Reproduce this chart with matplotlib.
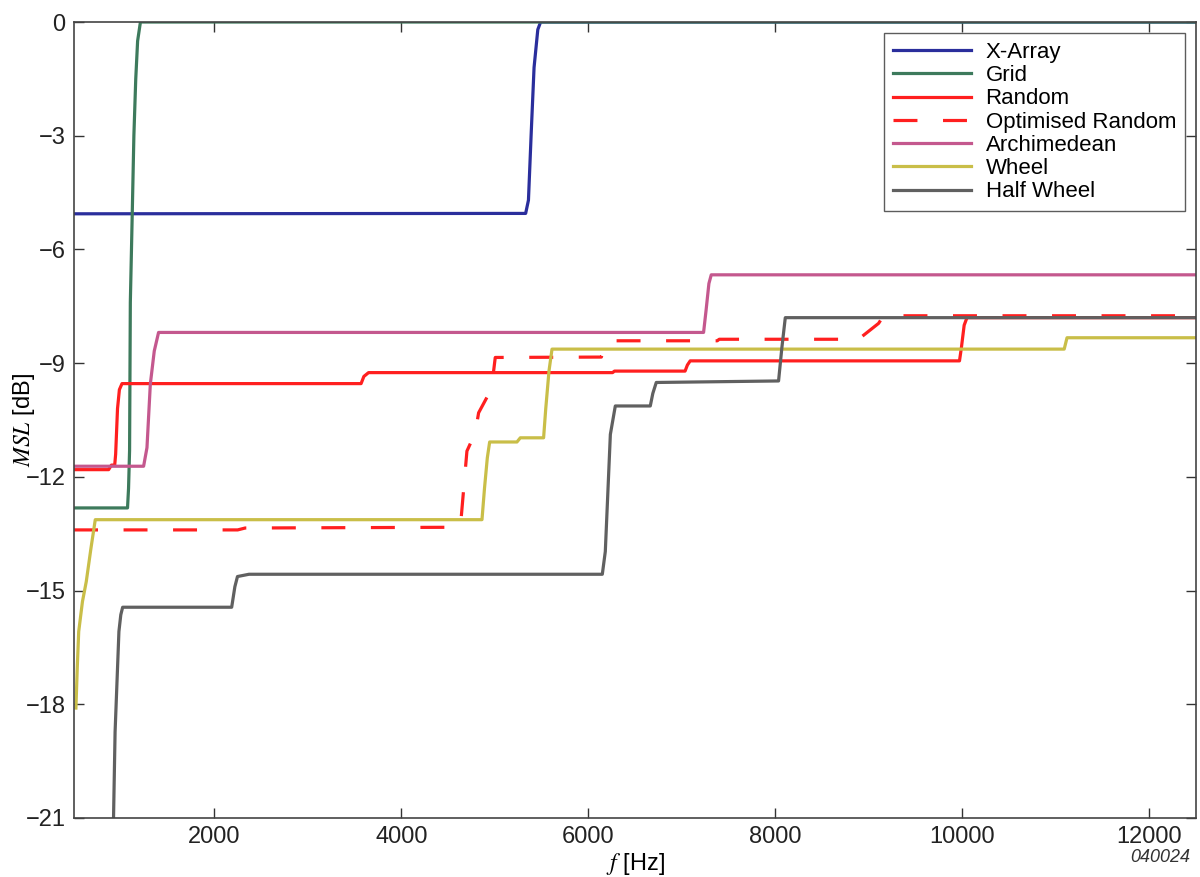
import numpy as np
import matplotlib
matplotlib.use("Agg")
import matplotlib.pyplot as plt

plt.rcParams['font.family'] = ['Liberation Sans Narrow', 'Liberation Sans', 'DejaVu Sans']
plt.rcParams['mathtext.fontset'] = 'stix'

# frequency [Hz] / MSL [dB]
xarray_f = [500, 5070, 5330, 5360, 5390, 5420, 5460, 5490, 12500]
xarray_db = [-5.06, -5.05, -5.05, -4.7, -2.9, -1.2, -0.2, 0.0, 0.0]

grid_f = [500, 1072, 1083, 1094, 1102, 1123, 1140, 1160, 1180, 1210, 12500]
grid_db = [-12.82, -12.82, -12.3, -11.3, -7.4, -5.0, -3.0, -1.5, -0.5, 0.0, 0.0]

random_f = [500, 870, 900, 935, 945, 965, 985, 1013, 3570, 3600, 3650,
            6260, 6280, 7035, 7060, 7090, 9970, 9990, 10020, 10050, 12500]
random_db = [-11.81, -11.81, -11.69, -11.69, -11.4, -10.2, -9.7, -9.54, -9.54, -9.35, -9.25,
             -9.25, -9.21, -9.21, -9.05, -8.94, -8.94, -8.6, -8.0, -7.8, -7.8]

opt_f = [500, 2250, 2330, 4610, 4642, 4702, 4791, 4827, 4923, 4981, 5005,
         6140, 6165, 6200, 7380, 7400, 8890, 9105, 9158, 12500]
opt_db = [-13.40, -13.40, -13.35, -13.33, -13.04, -11.32, -10.84, -10.31, -9.87, -9.34, -8.85,
          -8.84, -8.6, -8.41, -8.41, -8.37, -8.37, -7.95, -7.75, -7.75]

arch_f = [500, 1244, 1280, 1316, 1358, 1404, 7233, 7260, 7290, 7315, 12500]
arch_db = [-11.72, -11.72, -11.23, -9.55, -8.68, -8.19, -8.19, -7.6, -6.9, -6.67, -6.67]

wheel_f = [520, 535, 550, 590, 631, 680, 727, 4863, 4890, 4920, 4945, 5237, 5273,
           5522, 5545, 5580, 5612, 11090, 11120, 12500]
wheel_db = [-18.1, -17.0, -16.08, -15.29, -14.76, -13.9, -13.13, -13.13, -12.3, -11.5, -11.08, -11.08, -10.97,
            -10.97, -10.2, -9.2, -8.63, -8.63, -8.33, -8.33]

half_f = [915, 939, 980, 1000, 1020, 2186, 2220, 2248, 2371, 6150, 6182, 6236, 6289,
          6663, 6690, 6727, 8035, 8070, 8107, 12500]
half_db = [-22, -18.73, -16.08, -15.64, -15.44, -15.44, -14.9, -14.63, -14.57, -14.57, -13.97, -10.88, -10.13,
           -10.13, -9.8, -9.51, -9.47, -8.6, -7.8, -7.8]

xticks = [2000, 4000, 6000, 8000, 10000, 12000]
yticks = [0, -3, -6, -9, -12, -15, -18, -21]

fig = plt.figure(figsize=(12, 8.77), dpi=100)
ax = fig.add_axes([0.0617, 0.0673, 0.935, 0.9076])

lw = 2.3
ax.plot(xarray_f, xarray_db, color='#2a2e9c', lw=lw, label='X-Array')
ax.plot(grid_f, grid_db, color='#3d7a5c', lw=lw, label='Grid')
ax.plot(random_f, random_db, color='#ff1f1f', lw=lw, label='Random')
ax.plot(opt_f, opt_db, color='#ff1f1f', lw=lw, linestyle=(0, (7.5, 8)), label='Optimised Random')
ax.plot(arch_f, arch_db, color='#c4588e', lw=lw, label='Archimedean')
ax.plot(wheel_f, wheel_db, color='#c9be48', lw=lw, label='Wheel')
ax.plot(half_f, half_db, color='#606060', lw=lw, label='Half Wheel')

ax.set_xlim(500, 12500)
ax.set_ylim(-21, 0)
ax.set_xticks(xticks)
ax.set_yticks(yticks)
ax.set_yticklabels(['0' if v == 0 else '\u2212' + str(-v) for v in yticks])
ax.tick_params(direction='in', length=7, width=1.0, top=True, right=True,
               labelsize=17, pad=6, colors='#333333', labelcolor='#222222')
for s in ax.spines.values():
    s.set_color('#444444')
    s.set_linewidth(1.2)

ax.set_xlabel(r'$f$ [Hz]', fontsize=17, labelpad=2)
ax.set_ylabel(r'$MSL$ [dB]', fontsize=17, labelpad=-8)

leg = ax.legend(loc='upper right', frameon=True, fancybox=False,
                handlelength=3.5, handletextpad=0.65, labelspacing=0.1,
                borderpad=0.4, borderaxespad=0.5,
                prop={'family': ['Liberation Sans', 'DejaVu Sans'], 'size': 16})
leg.get_frame().set_edgecolor('#333333')
leg.get_frame().set_linewidth(1.0)

fig.text(0.992, 0.012, '040024', fontsize=13, style='italic', ha='right', va='bottom',
         color='#333333')

fig.savefig('out.png', dpi=100)
